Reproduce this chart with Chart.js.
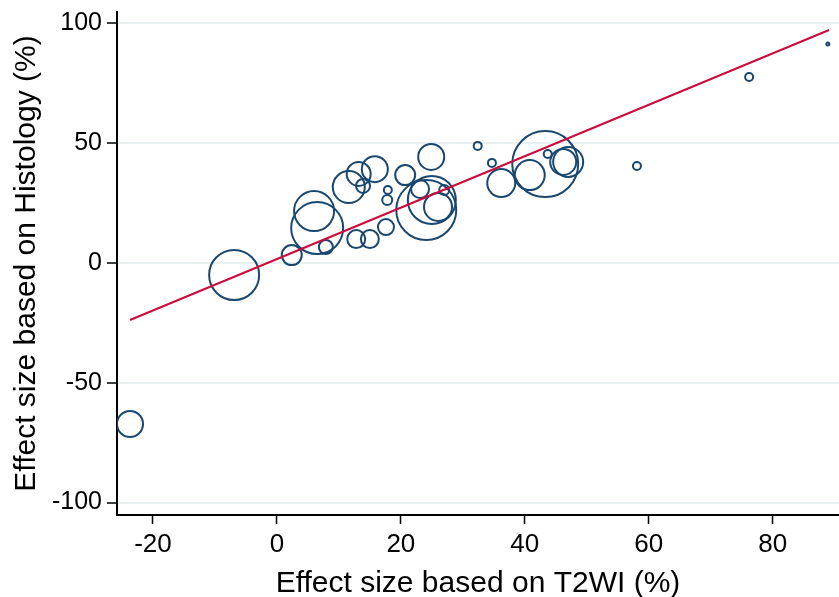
<!DOCTYPE html>
<html>
<head>
<meta charset="utf-8">
<script src="https://cdn.jsdelivr.net/npm/chart.js@4.4.0/dist/chart.umd.min.js"></script>
<style>
    html, body { margin: 0; padding: 0; background: #fff; }
</style>
</head>
<body>
<canvas id="bubble_chart" width="839" height="597"></canvas>
<script>
// effect sizes per study (%), bubble radius in px reflects study weight
var t2wi      = [-23.7, -6.9, 2.4, 7.9, 6.5, 6.0, 12.8, 15.0, 17.6, 11.6, 13.2, 13.9, 15.8, 17.9, 17.8, 20.7, 24.9, 23.1, 24.1, 25.0, 26.0, 27.0, 32.4, 34.7, 36.2, 40.8, 43.3, 43.7, 46.2, 47.0, 58.1, 76.2, 88.9];
var histology = [-67.2, -5.0, 3.3, 6.7, 14.6, 21.7, 10.0, 10.0, 15.0, 31.7, 37.2, 32.2, 39.2, 30.5, 26.3, 36.7, 44.3, 30.9, 22.1, 26.3, 23.4, 30.5, 48.9, 41.8, 33.4, 36.7, 41.3, 45.5, 42.2, 42.2, 40.5, 77.7, 91.4];
var weight    = [13, 25, 10, 7, 26, 20, 9, 9, 8, 16, 12, 7, 13, 4, 5, 10, 13, 9, 30, 24, 14, 5, 4, 4, 14, 15, 33, 4, 13, 15, 4, 4, 1.5];

// fitted line end points
var fitX = [-23.7, 89.1];
var fitY = [-23.8, 97.3];

var xTicks = [-20, 0, 20, 40, 60, 80];
var yTicks = [-100, -50, 0, 50, 100];

var FONT = 'Liberation Sans, Arial, sans-serif';

function points(xs, ys, rs) {
    return xs.map(function (x, i) {
        var p = { x: x, y: ys[i] };
        if (rs) p.r = rs[i];
        return p;
    });
}

new Chart(document.getElementById('bubble_chart').getContext('2d'), {
    type: 'bubble',
    data: {
        datasets: [{
            type: 'line',
            data: points(fitX, fitY),
            borderColor: '#cc0a3c',
            borderWidth: 2,
            pointRadius: 0,
            fill: false,
            order: 0
        }, {
            data: points(t2wi, histology, weight),
            borderColor: '#1a476f',
            backgroundColor: 'rgba(0,0,0,0)',
            borderWidth: 2,
            order: 1
        }]
    },
    options: {
        responsive: false,
        animation: false,
        events: [],
        layout: { autoPadding: false, padding: { top: 12, right: 0, left: 0, bottom: 0 } },
        plugins: { legend: { display: false }, tooltip: { enabled: false } },
        scales: {
            x: {
                type: 'linear',
                min: -25.8,
                max: 90.7,
                afterBuildTicks: function (scale) {
                    scale.ticks = xTicks.map(function (v) { return { value: v }; });
                },
                afterFit: function (scale) {
                    scale.height = 82;
                    scale.paddingLeft = 0;
                    scale.paddingRight = 0;
                },
                grid: { drawOnChartArea: false, tickLength: 9, tickColor: '#000', tickWidth: 1.5 },
                border: { color: '#000', width: 2 },
                ticks: { color: '#000', padding: 5, maxRotation: 0, font: { family: FONT, size: 26 } },
                title: {
                    display: true,
                    text: 'Effect size based on T2WI (%)',
                    color: '#000',
                    padding: { bottom: -2 },
                    font: { family: FONT, size: 30, lineHeight: 1 }
                }
            },
            y: {
                type: 'linear',
                min: -105.2,
                max: 104.8,
                afterBuildTicks: function (scale) {
                    scale.ticks = yTicks.map(function (v) { return { value: v }; });
                },
                afterFit: function (scale) {
                    scale.width = 117;
                    scale.paddingTop = 0;
                    scale.paddingBottom = 0;
                },
                grid: { color: '#eaf0f2', lineWidth: 2, tickLength: 10, tickColor: '#000', tickWidth: 1.5 },
                border: { color: '#000', width: 2 },
                ticks: { color: '#000', padding: 5, font: { family: FONT, size: 25 } },
                title: {
                    display: true,
                    text: 'Effect size based on Histology (%)',
                    color: '#000',
                    padding: { top: 12 },
                    font: { family: FONT, size: 30, lineHeight: 1 }
                }
            }
        }
    }
});
</script>
</body>
</html>
